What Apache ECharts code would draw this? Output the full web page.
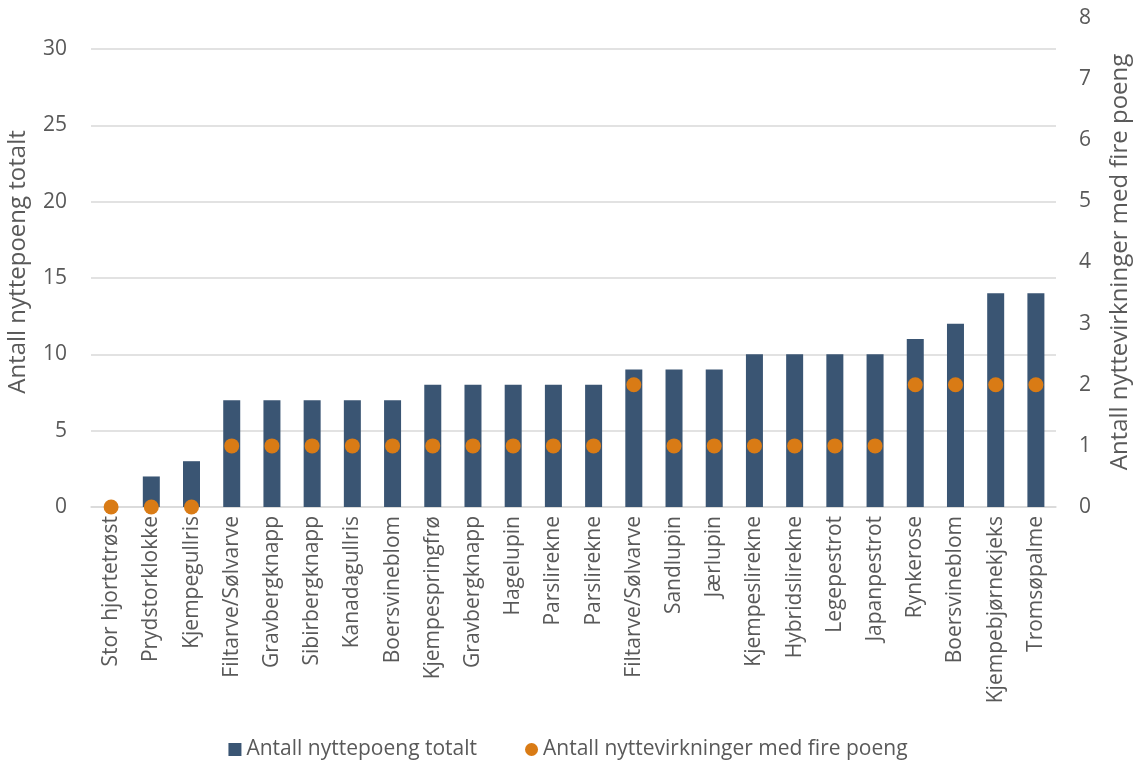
<!DOCTYPE html>
<html>
<head>
<meta charset="utf-8">
<script src="https://cdn.jsdelivr.net/npm/echarts@6/dist/echarts.min.js"></script>
<style>
  html, body { margin: 0; padding: 0; background: #ffffff; }
  #chart { width: 1136px; height: 762px; }
</style>
</head>
<body>
<div id="chart"></div>
<script>
// Species (categories along the x axis)
const categories = [
  'Stor hjortetrøst', 'Prydstorklokke', 'Kjempegullris', 'Filtarve/Sølvarve',
  'Gravbergknapp', 'Sibirbergknapp', 'Kanadagullris', 'Boersvineblom',
  'Kjempespringfrø', 'Gravbergknapp', 'Hagelupin', 'Parslirekne',
  'Parslirekne', 'Filtarve/Sølvarve', 'Sandlupin', 'Jærlupin',
  'Kjempeslirekne', 'Hybridslirekne', 'Legepestrot', 'Japanpestrot',
  'Rynkerose', 'Boersvineblom', 'Kjempebjørnekjeks', 'Tromsøpalme'
];

// Total benefit points per species (bars, left axis)
const totalPoints = [0, 2, 3, 7, 7, 7, 7, 7, 8, 8, 8, 8, 8, 9, 9, 9, 10, 10, 10, 10, 11, 12, 14, 14];

// Number of benefits scored with four points (dots, right axis)
const fourPointCounts = [0, 0, 0, 1, 1, 1, 1, 1, 1, 1, 1, 1, 1, 2, 1, 1, 1, 1, 1, 1, 2, 2, 2, 2];

const seriesNames = ['Antall nyttepoeng totalt', 'Antall nyttevirkninger med fire poeng'];
const axisTitles = ['Antall nyttepoeng totalt', 'Antall nyttevirkninger med fire poeng'];

const FONT = '"Open Sans", "Noto Sans", sans-serif';
const TEXT = '#595959';
const GRID = '#d9d9d9';
const BLUE = '#3a5573';
const ORANGE = '#d97b15';
const LABEL_SIZE = 21;

const chart = echarts.init(document.getElementById('chart'), null, { renderer: 'canvas' });

chart.setOption({
  backgroundColor: '#ffffff',
  animation: false,
  textStyle: { fontFamily: FONT, color: TEXT },
  grid: [
    // bars: left scale 0–30
    { left: 91, right: 80, top: 49, bottom: 255 },
    // dots: right scale 0–8
    { left: 91, right: 80, top: 18, bottom: 255 }
  ],
  legend: {
    top: 734,
    left: 'center',
    itemGap: 48,
    itemWidth: 13,
    itemHeight: 13,
    textStyle: { fontFamily: FONT, fontSize: LABEL_SIZE, color: TEXT },
    data: [
      { name: seriesNames[0], icon: 'rect' },
      { name: seriesNames[1], icon: 'circle' }
    ]
  },
  xAxis: [
    {
      type: 'category',
      gridIndex: 0,
      data: categories,
      axisLine: { show: true, lineStyle: { color: GRID, width: 1.5 } },
      axisTick: { show: false },
      axisLabel: {
        rotate: 90,
        interval: 0,
        margin: 9,
        fontSize: LABEL_SIZE,
        color: TEXT,
        fontFamily: FONT
      }
    },
    {
      type: 'category',
      gridIndex: 1,
      data: categories,
      show: false
    }
  ],
  yAxis: [
    {
      type: 'value',
      gridIndex: 0,
      min: 0,
      max: 30,
      interval: 5,
      axisLine: { show: false },
      axisTick: { show: false },
      axisLabel: { margin: 24, fontSize: LABEL_SIZE, color: TEXT, fontFamily: FONT },
      splitLine: { lineStyle: { color: GRID, width: 1.5 } }
    },
    {
      type: 'value',
      gridIndex: 1,
      position: 'right',
      min: 0,
      max: 8,
      interval: 1,
      axisLine: { show: false },
      axisTick: { show: false },
      axisLabel: { margin: 23, fontSize: LABEL_SIZE, color: TEXT, fontFamily: FONT },
      splitLine: { show: false }
    }
  ],
  graphic: [
    {
      type: 'text',
      x: 18,
      y: 262,
      rotation: Math.PI / 2,
      style: {
        text: axisTitles[0],
        fill: TEXT,
        font: '24px ' + FONT,
        align: 'center',
        verticalAlign: 'middle'
      }
    },
    {
      type: 'text',
      x: 1120,
      y: 262,
      rotation: Math.PI / 2,
      style: {
        text: axisTitles[1],
        fill: TEXT,
        font: '24px ' + FONT,
        align: 'center',
        verticalAlign: 'middle'
      }
    }
  ],
  series: [
    {
      name: seriesNames[0],
      type: 'bar',
      xAxisIndex: 0,
      yAxisIndex: 0,
      data: totalPoints,
      barWidth: 17,
      itemStyle: { color: BLUE }
    },
    {
      name: seriesNames[1],
      type: 'scatter',
      xAxisIndex: 1,
      yAxisIndex: 1,
      data: fourPointCounts,
      symbol: 'circle',
      symbolSize: 15,
      itemStyle: { color: ORANGE, opacity: 1 },
      z: 5
    }
  ]
});
</script>
</body>
</html>
